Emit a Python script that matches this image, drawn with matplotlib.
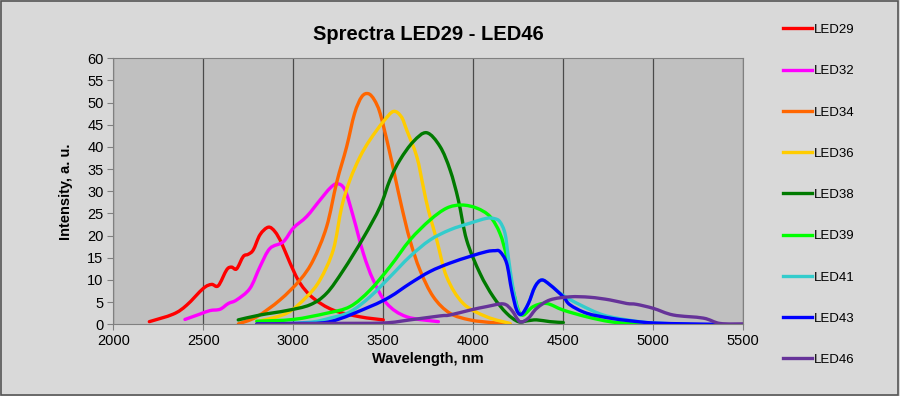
import matplotlib
matplotlib.use('Agg')
import numpy as np
import matplotlib.pyplot as plt
from matplotlib.patches import Rectangle, PathPatch
from matplotlib.path import Path
from matplotlib.lines import Line2D

plt.rcParams['font.family'] = ['Liberation Sans', 'DejaVu Sans']

# spectra (wavelength nm, intensity a.u.)
led29_x = [2200, 2333, 2407, 2500, 2546, 2583, 2630, 2657, 2685, 2722, 2750, 2778, 2815,
           2861, 2898, 2935, 2982, 3037, 3111, 3222, 3370, 3500]
led29_y = [0.6, 2.3, 4.3, 8.1, 9.0, 8.7, 12.3, 12.9, 12.5, 15.3, 15.8, 16.8, 20.2,
           21.9, 20.9, 18.3, 13.8, 9.3, 5.9, 3.2, 1.7, 1.0]

led32_x = [2398, 2481, 2537, 2593, 2639, 2685, 2759, 2815, 2870, 2944, 3000, 3074, 3148,
           3204, 3244, 3287, 3333, 3389, 3444, 3519, 3630, 3806]
led32_y = [1.1, 2.3, 3.1, 3.4, 4.7, 5.5, 8.1, 13.0, 17.1, 18.6, 21.7, 24.3, 28.0,
           30.7, 31.7, 30.3, 24.3, 16.0, 10.0, 4.7, 1.7, 0.6]

led34_x = [2695, 2797, 2926, 3037, 3111, 3185, 3241, 3296, 3340, 3380, 3417, 3450, 3482,
           3528, 3565, 3602, 3648, 3704, 3778, 3870, 3981, 4100, 4204]
led34_y = [0.1, 1.7, 5.5, 10.0, 14.5, 22.0, 32.0, 40.0, 47.5, 51.3, 52.0, 50.6, 47.6,
           40.1, 33.3, 26.5, 19.0, 12.2, 6.2, 2.5, 1.0, 0.4, 0.1]

led36_x = [2798, 2963, 3074, 3148, 3222, 3269, 3315, 3371, 3426, 3500, 3556, 3600, 3630,
           3686, 3722, 3750, 3797, 3852, 3944, 4074, 4204]
led36_y = [0.6, 2.5, 6.2, 10.0, 16.8, 26.5, 32.6, 37.8, 41.6, 45.7, 48.0, 46.8, 43.8,
           37.8, 31.0, 25.8, 19.0, 10.7, 4.7, 1.7, 0.2]

led38_x = [2694, 2815, 2963, 3093, 3185, 3278, 3389, 3482, 3537, 3593, 3667, 3741, 3815,
           3871, 3917, 3963, 4037, 4111, 4185, 4250, 4300, 4352, 4426, 4500]
led38_y = [1.0, 2.1, 3.1, 4.4, 7.0, 12.2, 19.5, 26.5, 32.6, 37.1, 41.2, 43.2, 40.1,
           34.8, 28.0, 19.0, 11.5, 6.2, 2.5, 0.6, 0.8, 1.0, 0.6, 0.4]

led39_x = [2797, 3000, 3185, 3315, 3426, 3537, 3648, 3759, 3852, 3935, 4019, 4093, 4148,
           4185, 4213, 4250, 4278, 4333, 4407, 4500, 4630, 4759, 4870, 5000]
led39_y = [0.7, 1.1, 2.5, 4.0, 7.7, 13.0, 19.0, 23.5, 26.2, 26.9, 26.2, 24.3, 20.5,
           15.3, 9.2, 3.2, 2.1, 4.0, 4.7, 3.2, 1.7, 0.6, 0.2, 0.0]

led41_x = [2900, 3100, 3204, 3315, 3426, 3537, 3648, 3759, 3870, 3981, 4074, 4120, 4148,
           4176, 4194, 4222, 4250, 4270, 4306, 4343, 4380, 4426, 4500, 4593, 4722, 4870,
           5000, 5200]
led41_y = [0.0, 0.5, 1.4, 2.8, 6.2, 10.7, 15.3, 19.0, 21.3, 22.8, 23.9, 23.8, 23.1,
           20.5, 15.3, 7.7, 2.8, 2.3, 4.7, 8.5, 10.0, 8.9, 6.5, 4.4, 2.1, 0.9,
           0.3, 0.0]

led43_x = [2797, 3000, 3204, 3426, 3537, 3648, 3759, 3870, 3981, 4074, 4120, 4148, 4185,
           4213, 4241, 4269, 4306, 4343, 4380, 4426, 4500, 4537, 4630, 4759, 4870, 5000,
           5200, 5370]
led43_y = [0.1, 0.2, 0.6, 4.0, 6.2, 9.2, 11.9, 13.8, 15.3, 16.4, 16.6, 16.4, 13.8,
           7.7, 3.2, 2.3, 4.7, 8.5, 10.0, 8.9, 6.2, 4.4, 2.5, 1.4, 0.8, 0.3,
           0.1, 0.0]

led46_x = [2800, 3204, 3500, 3648, 3815, 3870, 3981, 4074, 4167, 4213, 4259, 4306, 4352,
           4426, 4537, 4648, 4759, 4852, 4907, 5000, 5111, 5278, 5370, 5500]
led46_y = [0.0, 0.2, 0.3, 1.0, 1.9, 2.1, 3.2, 4.0, 4.6, 3.2, 0.6, 1.4, 3.6,
           5.5, 6.2, 6.1, 5.5, 4.7, 4.5, 3.6, 2.1, 1.4, 0.2, 0.1]

names = ['LED29', 'LED32', 'LED34', 'LED36', 'LED38', 'LED39', 'LED41', 'LED43', 'LED46']
xs = [led29_x, led32_x, led34_x, led36_x, led38_x, led39_x, led41_x, led43_x, led46_x]
ys = [led29_y, led32_y, led34_y, led36_y, led38_y, led39_y, led41_y, led43_y, led46_y]
colors = ['#ff0000', '#ff00ff', '#ff6600', '#ffcc00', '#007a00', '#00ff00',
          '#33cccc', '#0000ff', '#663399']


def smooth_path(x, y):
    # Excel-style "smoothed line": cubic Bezier segments through the points
    p = np.column_stack([x, y]).astype(float)
    n = len(p)
    verts = [p[0]]
    codes = [Path.MOVETO]
    for i in range(n - 1):
        p0 = p[i - 1] if i > 0 else p[i]
        p1, p2 = p[i], p[i + 1]
        p3 = p[i + 2] if i + 2 < n else p[i + 1]
        verts += [p1 + (p2 - p0) / 6, p2 - (p3 - p1) / 6, p2]
        codes += [Path.CURVE4] * 3
    return Path(verts, codes)


fig = plt.figure(figsize=(9, 3.96), dpi=100, facecolor='#d9d9d9')
ax = fig.add_axes([0.1259, 0.181, 0.7, 0.672])
ax.set_facecolor('#c0c0c0')

handles = []
for x, y, c, n in zip(xs, ys, colors, names):
    ax.add_patch(PathPatch(smooth_path(x, y), facecolor='none', edgecolor=c, lw=2.4,
                           joinstyle='round', capstyle='round'))
    handles.append(Line2D([], [], color=c, lw=2.4, label=n))

ax.set_xlim(2000, 5500)
ax.set_ylim(0, 60)
ax.set_xticks(range(2000, 5501, 500))
ax.set_yticks(range(0, 61, 5))
ax.grid(axis='x', color='#4a4a4a', lw=0.9)
ax.set_axisbelow(True)
for s in ax.spines.values():
    s.set_color('#808080')
ax.tick_params(direction='out', length=4, color='#808080', labelsize=10.5, pad=3)

ax.set_title('Sprectra LED29 - LED46', fontsize=14.5, fontweight='bold', pad=13)
ax.set_xlabel('Wavelength, nm', fontsize=10.5, fontweight='bold', labelpad=3)
ax.set_ylabel('Intensity, a. u.', fontsize=10.5, fontweight='bold', labelpad=10)

leg = fig.legend(handles=handles, loc='upper left', bbox_to_anchor=(0.857, 0.97),
                 frameon=False, fontsize=9.5, labelspacing=2.2, handlelength=2.2,
                 handletextpad=0.1)

fig.patches.append(Rectangle((0.001, 0.002), 0.997, 0.995, transform=fig.transFigure,
                             fill=False, edgecolor='#555555', lw=1.2))

fig.savefig('out.png', dpi=100, facecolor=fig.get_facecolor())
